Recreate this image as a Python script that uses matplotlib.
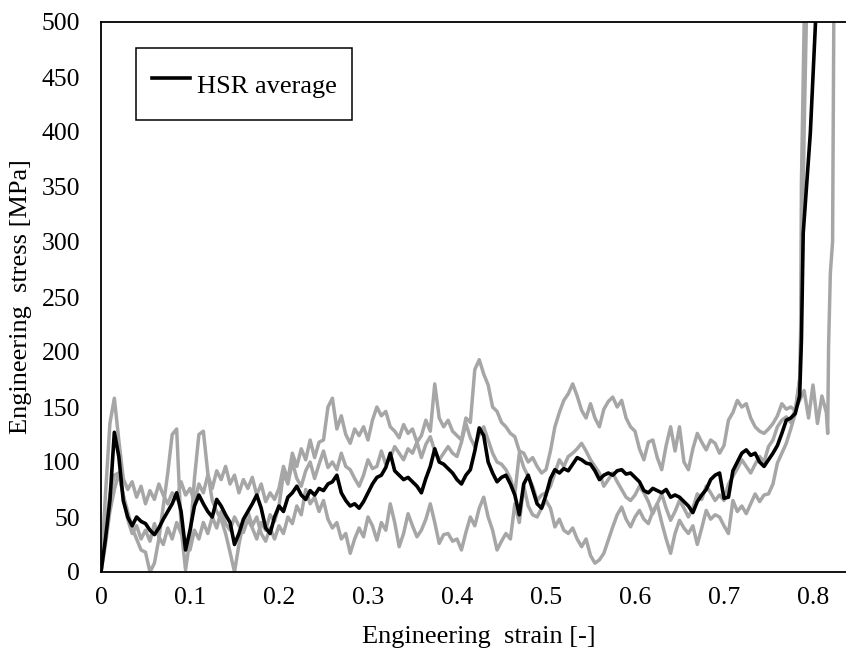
import numpy as np
import matplotlib
matplotlib.use('Agg')
import matplotlib.pyplot as plt

plt.rcParams['font.family'] = ['Liberation Serif', 'DejaVu Serif']

# rejilla de deformacion (cada 0.005) hasta 0.785
strain = np.round(np.arange(158) * 0.005, 3)

# promedio HSR (negro)
avg_stress = [
    0, 30, 65, 127, 105, 65, 50, 42, 50, 46,
    44, 38, 34, 40, 48, 55, 62, 72, 55, 20,
    38, 60, 70, 62, 55, 50, 66, 60, 52, 45,
    25, 35, 48, 55, 62, 70, 58, 40, 35, 50,
    60, 55, 68, 72, 78, 70, 66, 74, 70, 76,
    74, 80, 82, 88, 72, 65, 60, 62, 58, 64,
    72, 80, 86, 88, 95, 108, 92, 88, 84, 86,
    82, 78, 72, 85, 96, 112, 100, 98, 94, 90,
    84, 80, 88, 93, 110, 131, 124, 100, 90, 82,
    86, 88, 80, 70, 52, 80, 88, 75, 62, 58,
    70, 85, 93, 90, 94, 92, 98, 104, 102, 99,
    98, 92, 84, 88, 90, 88, 92, 93, 89, 90,
    86, 82, 74, 72, 76, 74, 72, 75, 68, 70,
    68, 64, 60, 54, 64, 70, 75, 84, 88, 90,
    67, 68, 92, 100, 108, 111, 106, 108, 100, 96,
    102, 108, 115, 126, 138, 140, 144, 160,
]
avg_tail_strain = [0.787, 0.789, 0.797, 0.804]
avg_tail_stress = [211, 308, 399, 520]

# probetas individuales (gris)
high_stress = [
    0, 70, 135, 158, 120, 85, 75, 82, 68, 78,
    62, 74, 66, 80, 70, 62, 72, 66, 82, 70,
    76, 64, 80, 72, 88, 76, 92, 84, 96, 80,
    88, 72, 84, 76, 86, 70, 80, 64, 72, 66,
    76, 96, 84, 108, 96, 112, 102, 120, 104, 118,
    120, 150, 158, 130, 142, 125, 117, 130, 124, 132,
    120, 138, 150, 142, 146, 132, 128, 122, 134, 126,
    130, 118, 124, 138, 128, 171, 140, 132, 138, 128,
    124, 120, 140, 136, 184, 193, 180, 170, 150, 146,
    136, 132, 126, 123, 110, 108, 100, 104, 96, 90,
    93, 110, 132, 145, 156, 162, 171, 160, 147, 140,
    153, 140, 132, 148, 155, 159, 150, 156, 140, 132,
    128, 112, 102, 118, 120, 104, 93, 115, 132, 110,
    132, 100, 93, 112, 126, 118, 111, 120, 117, 108,
    115, 138, 145, 156, 150, 153, 140, 132, 128, 126,
    130, 135, 142, 153, 148, 150, 147, 175,
]
high_tail_strain = [0.788, 0.790, 0.793]
high_tail_stress = [280, 400, 520]

mid_stress = [
    0, 25, 55, 75, 90, 70, 48, 35, 42, 30,
    38, 28, 44, 32, 25, 40, 30, 45, 35, 28,
    20, 38, 30, 45, 35, 50, 40, 55, 44, 38,
    50, 42, 36, 48, 40, 30, 45, 38, 52, 46,
    60, 90, 80, 100, 85, 78, 92, 100, 85, 98,
    110, 95, 100, 93, 108, 96, 93, 85, 78, 88,
    102, 94, 96, 110, 98, 104, 114, 108, 102, 112,
    108, 118, 104, 116, 123, 110, 102, 108, 114, 108,
    105, 118, 135, 122, 114, 125, 132, 120, 108, 100,
    98, 93, 85, 71, 108, 95, 87, 78, 65, 70,
    72, 78, 90, 102, 96, 105, 108, 112, 117, 110,
    102, 96, 90, 78, 84, 90, 82, 75, 68, 65,
    70, 78, 72, 64, 53, 62, 71, 58, 47, 55,
    65, 58, 50, 58, 71, 66, 78, 72, 65, 70,
    65, 80, 87, 94, 102, 96, 90, 98, 105, 100,
    114, 120, 132, 138, 141, 136, 148, 156,
]
mid_tail_strain = [0.79, 0.795, 0.8, 0.805, 0.81, 0.815, 0.8165, 0.8175, 0.8195, 0.822, 0.8235]
mid_tail_stress = [165, 140, 170, 135, 160, 145, 126, 205, 272, 300, 520]

low_stress = [
    0, 40, 70, 88, 90, 70, 55, 40, 30, 20,
    18, 0, 8, 30, 60, 90, 125, 130, 40, 2,
    30, 85, 125, 128, 90, 65, 55, 48, 35, 18,
    0, 25, 45, 55, 42, 50, 35, 28, 40, 30,
    42, 35, 50, 44, 60, 52, 75, 62, 68, 55,
    65, 48, 40, 45, 30, 35, 17, 30, 40, 32,
    50, 42, 29, 45, 38, 62, 45, 23, 35, 53,
    42, 32, 38, 48, 62, 45, 26, 34, 35, 28,
    30, 20, 36, 50, 42, 58, 68, 50, 38, 20,
    28, 35, 30, 62, 45, 78, 60, 52, 50, 58,
    65, 58, 41, 48, 38, 35, 40, 30, 23, 30,
    15, 8, 11, 17, 29, 41, 52, 59, 48, 41,
    50, 56, 48, 44, 55, 62, 45, 30, 17, 35,
    47, 40, 35, 42, 25, 40, 56, 48, 52, 50,
    42, 35, 65, 55, 60, 53, 62, 71, 64, 70,
    71, 80, 99, 108, 117, 130, 144, 175,
]
low_tail_strain = [0.786, 0.787, 0.7905]
low_tail_stress = [202, 354, 520]

gray = '#a6a6a6'

fig = plt.figure(figsize=(8.46, 6.53), dpi=100)
ax = fig.add_axes([101 / 846, 81 / 653, 756.5 / 846, 550 / 653])

for s, ts, tv in [(high_stress, high_tail_strain, high_tail_stress),
                  (mid_stress, mid_tail_strain, mid_tail_stress),
                  (low_stress, low_tail_strain, low_tail_stress)]:
    ax.plot(list(strain) + ts, list(s) + tv, color=gray, lw=2.5)

ax.plot(list(strain) + avg_tail_strain, avg_stress + avg_tail_stress,
        color='black', lw=2.6, label='HSR average')

ax.set_xlim(0, 0.85)
ax.set_ylim(0, 500)
ax.set_xticks([0, 0.1, 0.2, 0.3, 0.4, 0.5, 0.6, 0.7, 0.8])
ax.set_xticklabels(['0', '0.1', '0.2', '0.3', '0.4', '0.5', '0.6', '0.7', '0.8'])
ax.set_yticks(range(0, 501, 50))
ax.tick_params(length=0, labelsize=18.5)
ax.tick_params(axis='y', pad=15)
ax.tick_params(axis='x', pad=11)
ax.spines['right'].set_visible(False)
for sp in ['left', 'bottom', 'top']:
    ax.spines[sp].set_linewidth(1.3)

ax.set_xlabel('Engineering  strain [-]', fontsize=19, labelpad=12)
ax.set_ylabel('Engineering  stress [MPa]', fontsize=19, labelpad=7)

leg = ax.legend(loc='upper left', bbox_to_anchor=(35 / 756.5, 524 / 550), borderaxespad=0,
                fontsize=19, fancybox=False, framealpha=1, edgecolor='black',
                handlelength=1.45, handletextpad=0.25, borderpad=0.6, handleheight=2.0)
leg.get_frame().set_linewidth(1.1)

fig.savefig('out.png', dpi=100)
